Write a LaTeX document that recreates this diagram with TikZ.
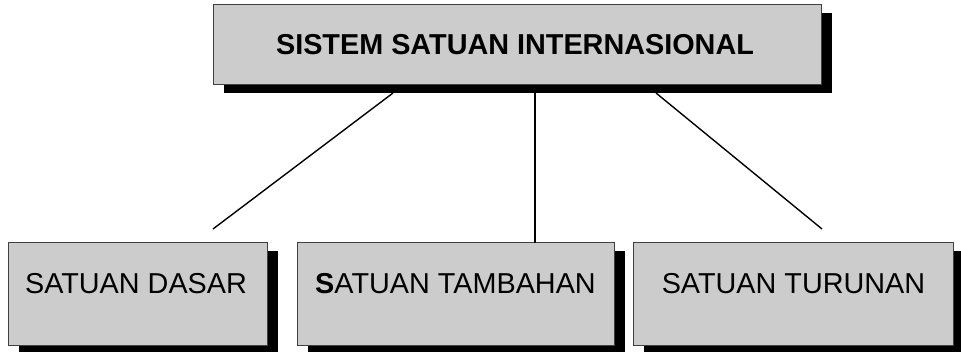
\documentclass[tikz,border=0pt]{standalone}
\usepackage{fontspec}
\setmainfont{Liberation Sans}
\begin{document}
\begin{tikzpicture}[x=1pt,y=-1pt,
  box/.style={draw=black!75,line width=1pt,fill=black!20,inner sep=0pt,outer sep=0pt},
  shadowbox/.style={fill=black},
  lbl/.style={anchor=base,inner sep=0pt,font=\fontsize{28.8pt}{30pt}\selectfont},
  conn/.style={draw=black,line width=1.4pt}]
\useasboundingbox (0,0) rectangle (961,352);
\clip (0,0) rectangle (961,352);
% shadows
\fill[shadowbox] (224,13) rectangle (832,93);
\fill[shadowbox] (19,251) rectangle (278,356);
\fill[shadowbox] (308,251) rectangle (625,356);
\fill[shadowbox] (644,251) rectangle (964,356);
% boxes
\node[box,minimum width=608pt,minimum height=80pt] (top) at (517,45) {};
\node[box,minimum width=259pt,minimum height=103pt] (b1) at (137.5,294.5) {};
\node[box,minimum width=317pt,minimum height=103pt] (b2) at (455.5,294.5) {};
\node[box,minimum width=320pt,minimum height=103pt] (b3) at (793,294.5) {};
% texts
\node[lbl,font=\fontsize{28.8pt}{30pt}\selectfont\bfseries] (tt) at (515,55) {SISTEM SATUAN INTERNASIONAL};
\node[lbl] (t1) at (136,294) {SATUAN DASAR};
\node[lbl] (t2) at (455.5,294) {\textbf{S}ATUAN TAMBAHAN};
\node[lbl] (t3) at (793.5,294) {SATUAN TURUNAN};
% connectors
\coordinate (s1) at (393,93);
\coordinate (s2) at (535,93);
\coordinate (s3) at (656,93);
\coordinate (e1) at (213,229);
\coordinate (e3) at (822,229);
\draw[conn] (s1) -- (e1);
\draw[conn] (s2) -- (s2 |- b2.north);
\draw[conn] (s3) -- (e3);
\end{tikzpicture}
\end{document}
